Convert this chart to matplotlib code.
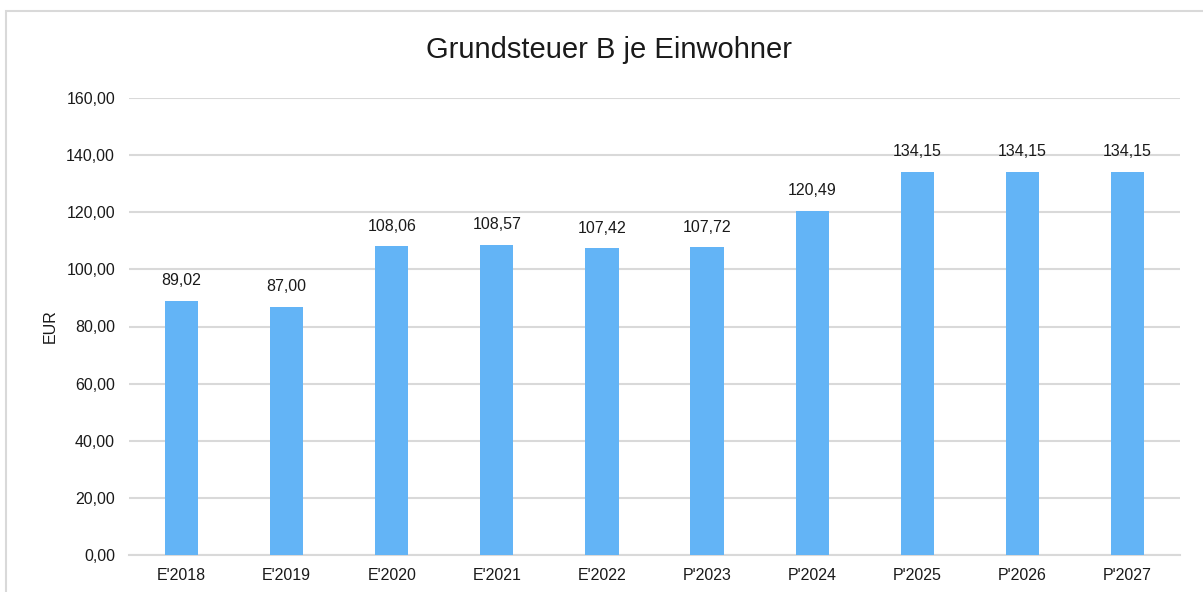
import matplotlib.pyplot as plt
from matplotlib.patches import Rectangle

plt.rcParams['font.family'] = ['Liberation Sans', 'DejaVu Sans']

categories = ["E'2018", "E'2019", "E'2020", "E'2021", "E'2022",
              "P'2023", "P'2024", "P'2025", "P'2026", "P'2027"]
values = [89.02, 87.00, 108.06, 108.57, 107.42, 107.72, 120.49, 134.15, 134.15, 134.15]
yticks = [0, 20, 40, 60, 80, 100, 120, 140, 160]

def de(v):
    return f"{v:.2f}".replace(".", ",")

fig = plt.figure(figsize=(12.03, 5.92), dpi=100)
ax = fig.add_axes([129 / 1203, 1 - 555 / 592, (1180 - 129) / 1203, (555 - 98) / 592])

# chart frame (runs off the right and bottom edge)
fig.patches.append(Rectangle((6 / 1203, -0.1), 1.2, 1 - 11 / 592 + 0.1,
                             transform=fig.transFigure, fill=False,
                             edgecolor='#d9d9d9', linewidth=1.5))

x = range(len(categories))
bars = ax.bar(x, values, width=0.315, color='#63b4f6', zorder=3)
for xi, v in zip(x, values):
    ax.annotate(de(v), (xi, v), xytext=(0, 9), textcoords='offset points',
                ha='center', va='bottom', fontsize=11.5, color='#1a1a1a')

ax.set_xlim(-0.5, len(categories) - 0.5)
ax.set_ylim(0, 160)
ax.set_yticks(yticks)
ax.set_yticklabels([de(t) for t in yticks], fontsize=11.5, color='#1a1a1a')
ax.set_xticks(list(x))
ax.set_xticklabels(categories, fontsize=11.5, color='#1a1a1a')
ax.tick_params(axis='y', length=0, pad=10)
ax.tick_params(axis='x', length=0, pad=9)
ax.grid(axis='y', color='#d9d9d9', linewidth=1.5, zorder=0)
for s in ['top', 'right', 'left']:
    ax.spines[s].set_visible(False)
ax.spines['bottom'].set_color('#d9d9d9')
ax.spines['bottom'].set_linewidth(1.5)

ax.set_ylabel('EUR', fontsize=11.5, color='#1a1a1a', labelpad=6)
fig.text(609 / 1203, 1 - 50 / 592, 'Grundsteuer B je Einwohner', ha='center', va='center',
         fontsize=21, color='#1a1a1a')

fig.savefig('out.png', dpi=100)
